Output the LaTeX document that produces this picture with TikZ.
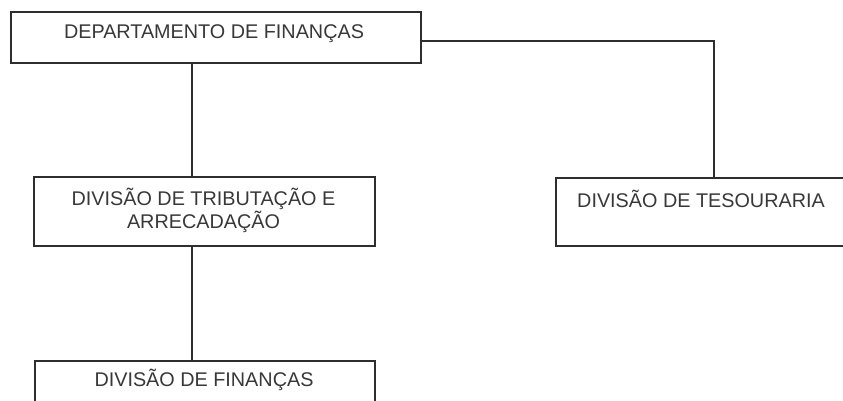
\documentclass[tikz,border=0pt]{standalone}
\usepackage{fontspec}
\setmainfont{Liberation Sans}
\definecolor{linec}{HTML}{2E2E2E}
\definecolor{textc}{HTML}{383838}
\begin{document}
\begin{tikzpicture}[x=1pt,y=-1pt,
  box/.style={draw=linec, line width=1.8pt, rectangle, inner sep=0pt, fill=white},
  txt/.style={font=\fontsize{19.8}{23}\selectfont, text=textc, align=center, inner sep=0pt},
  conn/.style={draw=linec, line width=1.6pt}]
\fill[white] (0,0) rectangle (843,401);
\useasboundingbox (0,0) rectangle (843,401);
\clip (0,0) rectangle (843,401);
% boxes
\node[box, minimum width=410pt, minimum height=51pt, anchor=north west] (dep) at (10,11) {};
\node[txt] (deptxt) at (214,33.5) {DEPARTAMENTO DE FINANÇAS};
\node[box, minimum width=341pt, minimum height=69pt, anchor=north west] (trib) at (33,176) {};
\node[txt] (tribtxt) at (203.5,210.5) {DIVISÃO DE TRIBUTAÇÃO E\\ARRECADAÇÃO};
\node[box, minimum width=300pt, minimum height=68pt, anchor=north west] (tes) at (555,177) {};
\node[txt] (testxt) at (701,199) {DIVISÃO DE TESOURARIA};
\node[box, minimum width=340pt, minimum height=69pt, anchor=north west] (fin) at (34,360) {};
\node[txt] (fintxt) at (204,380) {DIVISÃO DE FINANÇAS};
% connectors
\draw[conn] ([xshift=182pt]dep.south west) -- ([xshift=182pt]dep.south west |- trib.north);
\draw[conn] ([xshift=159pt]trib.south west) -- ([xshift=159pt]trib.south west |- fin.north);
\draw[conn] ([yshift=-3.5pt]dep.east) -| ([xshift=159pt]tes.north west);
\end{tikzpicture}
\end{document}
